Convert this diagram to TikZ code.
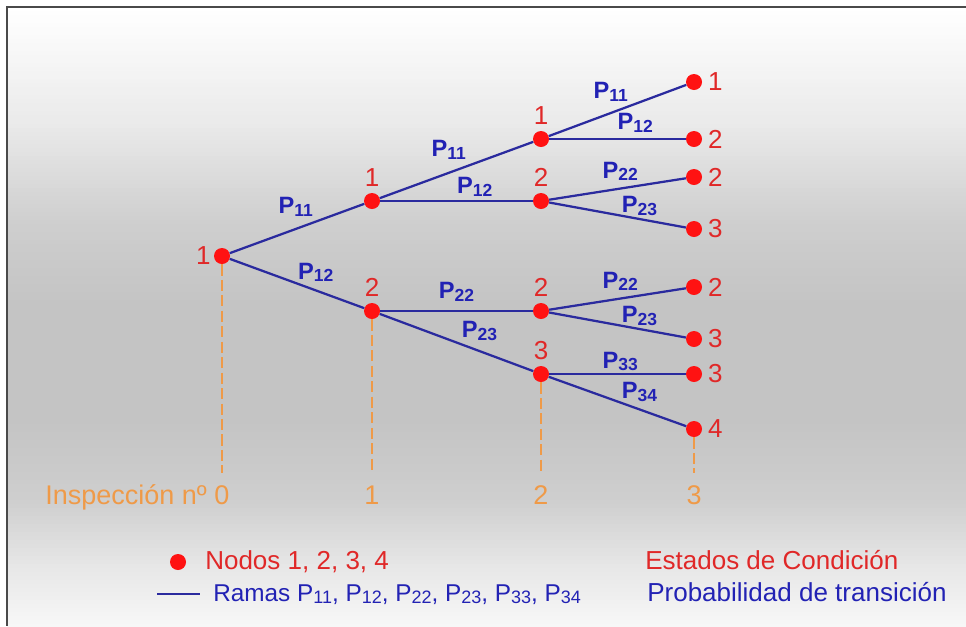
\documentclass[tikz,border=0pt]{standalone}
\usepackage{fontspec}
\setmainfont{Liberation Sans}
\setsansfont{Liberation Sans}
\usetikzlibrary{positioning}
\definecolor{stateRed}{HTML}{E02828}
\definecolor{dotRed}{HTML}{FF1212}
\definecolor{branchBlue}{HTML}{2A2A9E}
\definecolor{labelBlue}{HTML}{2222B4}
\definecolor{inspOrange}{HTML}{EF9A48}
\definecolor{frameGray}{HTML}{4A4A4A}
\newcommand{\Pij}[1]{P\raisebox{-0.12em}{\scalebox{0.74}{#1}}}

\begin{document}
\begin{tikzpicture}[x=0.025cm, y=-0.025cm,
    state/.style={circle, fill=dotRed, inner sep=0pt, minimum size=0.4cm},
    num/.style={text=stateRed, font=\fontsize{18.5}{18}\selectfont, inner sep=1pt},
    branch/.style={branchBlue, line width=1.6pt},
    plab/.style={text=labelBlue, font=\fontsize{16.8}{17}\selectfont\bfseries, inner sep=1pt},
    insp/.style={text=inspOrange, font=\fontsize{19.2}{19}\selectfont, inner sep=0pt},
    guide/.style={inspOrange, line width=0.8pt, dash pattern=on 8pt off 3pt, shorten >=9pt},
    legtext/.style={font=\fontsize{18.5}{18}\selectfont, inner sep=0pt, anchor=base west},
]
    \useasboundingbox (0,0) rectangle (966,626);
    % background, light at top and bottom, grey in the middle
    \foreach \ya/\da/\yb/\db in {7/0/120/8, 120/8/220/19, 220/19/300/23, 300/23/420/23,
                                 420/23/500/19, 500/19/560/10, 560/10/626/3} {
        \pgfmathtruncatemacro\n{(\yb-\ya)/4}
        \foreach \k in {0,...,\n} {
            \pgfmathsetmacro\yy{\ya+4*\k}
            \pgfmathsetmacro\dd{\da+(\db-\da)*\k/\n}
            \fill[black!\dd] (7,\yy) rectangle (966,\yy+4.8);
        }
    }
    \draw[frameGray, line width=1.4pt] (966,7) -- (7,7) -- (7,626);

    % states
    \node[state] (r) at (222,256) {};
    \node[state] (a1) at (372,201) {};
    \node[state] (b1) at (372,311) {};
    \node[state] (a2) at (541,139) {};
    \node[state] (b2) at (541,201) {};
    \node[state] (c2) at (541,311) {};
    \node[state] (d2) at (541,374) {};
    \node[state] (e1) at (694,82) {};
    \node[state] (e2) at (694,139) {};
    \node[state] (e3) at (694,177) {};
    \node[state] (e4) at (694,229) {};
    \node[state] (e5) at (694,287) {};
    \node[state] (e6) at (694,339) {};
    \node[state] (e7) at (694,374) {};
    \node[state] (e8) at (694,429) {};

    \node[num, left=1pt of r] {1};
    \node[num, above=3pt of a1] {1};
    \node[num, above=3pt of b1] {2};
    \node[num, above=3pt of a2] {1};
    \node[num, above=3pt of b2] {2};
    \node[num, above=3pt of c2] {2};
    \node[num, above=3pt of d2] {3};
    \node[num, right=3pt of e1] {1};
    \node[num, right=3pt of e2] {2};
    \node[num, right=3pt of e3] {2};
    \node[num, right=3pt of e4] {3};
    \node[num, right=3pt of e5] {2};
    \node[num, right=3pt of e6] {3};
    \node[num, right=3pt of e7] {3};
    \node[num, right=3pt of e8] {4};

    % branches
    \draw[branch] (r) -- (a1) node[plab, pos=0.49, above=7pt] {\Pij{11}};
    \draw[branch] (r) -- (b1) node[plab, pos=0.64, above=4.2pt] {\Pij{12}};
    \draw[branch] (a1) -- (a2) node[plab, pos=0.45, above=7.7pt] {\Pij{11}};
    \draw[branch] (a1) -- (b2) node[plab, pos=0.62, above=1.4pt] {\Pij{12}};
    \draw[branch] (b1) -- (c2) node[plab, pos=0.5, above=5pt] {\Pij{22}};
    \draw[branch] (b1) -- (d2) node[plab, pos=0.65, above=5.6pt] {\Pij{23}};
    \draw[branch] (a2) -- (e1) node[plab, pos=0.45, above=6.3pt] {\Pij{11}};
    \draw[branch] (a2) -- (e2) node[plab, pos=0.63, above=2.8pt] {\Pij{12}};
    \draw[branch] (b2) -- (e3) node[plab, pos=0.52, above=3.6pt] {\Pij{22}};
    \draw[branch] (b2) -- (e4) node[plab, pos=0.66, above=0.8pt] {\Pij{23}};
    \draw[branch] (c2) -- (e5) node[plab, pos=0.52, above=3.6pt] {\Pij{22}};
    \draw[branch] (c2) -- (e6) node[plab, pos=0.66, above=0.8pt] {\Pij{23}};
    \draw[branch] (d2) -- (e7) node[plab, pos=0.52, above=0.3pt] {\Pij{33}};
    \draw[branch] (d2) -- (e8) node[plab, pos=0.66, above=3.6pt] {\Pij{34}};

    % inspections
    \node[insp] (i0) at (222,495) {0};
    \node[insp] (i1) at (372,495) {1};
    \node[insp] (i2) at (541,495) {2};
    \node[insp] (i3) at (694,495) {3};
    \node[insp, anchor=base east] (ilab) at ([xshift=-5pt]i0.base west) {Inspección nº};
    \draw[guide] (r) -- (i0);
    \draw[guide] (b1) -- (i1);
    \draw[guide] (d2) -- (i2);
    \draw[guide] (e8) -- (i3);

    % legend
    \node[state] (ldot) at (178,562) {};
    \node[legtext, text=stateRed] (lnod) at (205,569) {Nodos 1, 2, 3, 4};
    \node[legtext, text=stateRed] (lest) at (645,569) {Estados de Condición};
    \coordinate (lb1) at (157,594);
    \coordinate (lb2) at (200,594);
    \draw[branch] (lb1) -- (lb2);
    \node[legtext, text=labelBlue, font=\fontsize{17.3}{18}\selectfont] (lram) at (213,601)
        {Ramas \Pij{11}, \Pij{12}, \Pij{22}, \Pij{23}, \Pij{33}, \Pij{34}};
    \node[legtext, text=labelBlue] (lprob) at (647,601) {Probabilidad de transición};
\end{tikzpicture}
\end{document}
